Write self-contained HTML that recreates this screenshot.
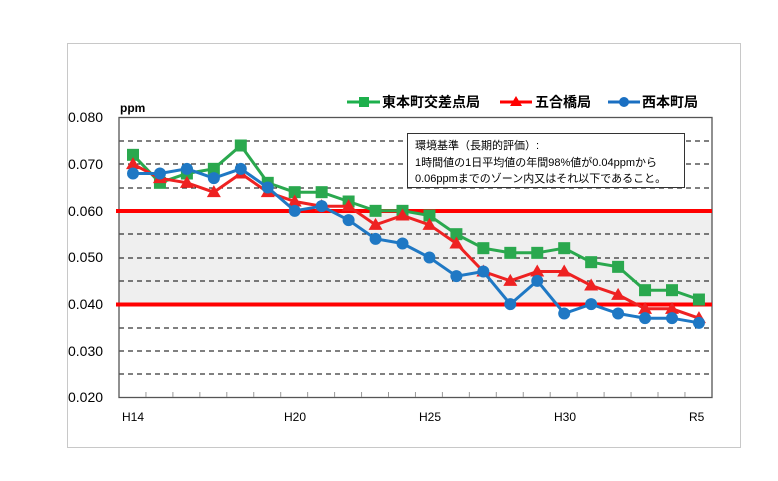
<!DOCTYPE html>
<html><head><meta charset="utf-8"><style>
body{margin:0;background:#fff}
svg{display:block}
text{font-family:"Liberation Sans","Noto Sans CJK JP",sans-serif}
</style></head><body>
<svg width="778" height="481" viewBox="0 0 778 481" xmlns="http://www.w3.org/2000/svg">
<rect x="67.5" y="43.5" width="673" height="404" fill="#fff" stroke="#c8c8c8"/>
<rect x="119" y="211" width="593" height="93" fill="#efefef"/>
<g stroke="#000" stroke-width="1" stroke-dasharray="5,4">
<line x1="119" x2="712" y1="141" y2="141"/>
<line x1="119" x2="712" y1="164" y2="164"/>
<line x1="119" x2="712" y1="188" y2="188"/>
<line x1="119" x2="712" y1="234" y2="234"/>
<line x1="119" x2="712" y1="258" y2="258"/>
<line x1="119" x2="712" y1="281" y2="281"/>
<line x1="119" x2="712" y1="328" y2="328"/>
<line x1="119" x2="712" y1="351" y2="351"/>
<line x1="119" x2="712" y1="374" y2="374"/>
</g>
<rect x="119" y="117.5" width="593" height="280" fill="none" stroke="#555" stroke-width="1.3"/>
<g id="ticks" stroke="#999"></g>
<line x1="116" x2="712" y1="211" y2="211" stroke="#ff0000" stroke-width="4"/>
<line x1="116" x2="712" y1="304.5" y2="304.5" stroke="#ff0000" stroke-width="4"/>
<g font-size="14" fill="#000">
<text x="68" y="122">0.080</text><text x="68" y="169">0.070</text><text x="68" y="216">0.060</text>
<text x="68" y="262">0.050</text><text x="68" y="309">0.040</text><text x="68" y="356">0.030</text><text x="68" y="402">0.020</text>
</g>
<text x="120" y="112" font-size="12" font-weight="bold">ppm</text>
<g font-size="12" fill="#000">
<text x="122" y="421">H14</text><text x="284" y="421">H20</text><text x="419" y="421">H25</text>
<text x="554" y="421">H30</text><text x="689" y="421">R5</text>
</g>
<rect x="407.5" y="133.5" width="277" height="54" fill="#fff" stroke="#333"/>
<g font-size="11" fill="#000">
<text x="415" y="149">環境基準（長期的評価）:</text>
<text x="415" y="166">1時間値の1日平均値の年間98%値が0.04ppmから</text>
<text x="415" y="182">0.06ppmまでのゾーン内又はそれ以下であること。</text>
</g>
<g font-size="14" font-weight="bold">
<line x1="347" x2="380" y1="102" y2="102" stroke="#1db04c" stroke-width="3"/><rect x="359" y="97" width="10" height="10" fill="#1db04c"/>
<text x="382" y="107">東本町交差点局</text>
<line x1="500" x2="532" y1="102" y2="102" stroke="#ff0000" stroke-width="3"/><polygon points="516,96 522,106 510,106" fill="#ff0000"/>
<text x="535" y="107">五合橋局</text>
<line x1="608" x2="640" y1="102" y2="102" stroke="#1a6fc2" stroke-width="3"/><circle cx="624" cy="102" r="5" fill="#1a6fc2"/>
<text x="642" y="107">西本町局</text>
</g>
<g id="series"></g>
</svg>
<script>
var X=function(i){return 133+i*26.95},Y=function(v){return 117.5+(0.080-v)*4667};
var t=document.getElementById('ticks'),s='';
for(var k=1;k<22;k++){var x=119+k*26.95;s+='<line x1="'+x+'" x2="'+x+'" y1="397" y2="392"/>';}
t.innerHTML=s;
var g=[.072,.066,.068,.069,.074,.066,.064,.064,.062,.060,.060,.059,.055,.052,.051,.051,.052,.049,.048,.043,.043,.041];
var r=[.070,.067,.066,.064,.068,.064,.062,.061,.061,.057,.059,.057,.053,.047,.045,.047,.047,.044,.042,.039,.039,.037];
var b=[.068,.068,.069,.067,.069,.065,.060,.061,.058,.054,.053,.050,.046,.047,.040,.045,.038,.040,.038,.037,.037,.036];
function pts(a){return a.map(function(v,i){return X(i).toFixed(1)+','+Y(v).toFixed(1)}).join(' ')}
var h='';
h+='<polyline points="'+pts(g)+'" fill="none" stroke="#2aa84e" stroke-width="3"/>';
g.forEach(function(v,i){h+='<rect x="'+(X(i)-6)+'" y="'+(Y(v)-6)+'" width="12" height="12" fill="#2aa84e"/>';});
h+='<polyline points="'+pts(r)+'" fill="none" stroke="#ee2222" stroke-width="3"/>';
r.forEach(function(v,i){var x=X(i),y=Y(v);h+='<polygon points="'+x+','+(y-7)+' '+(x+7)+','+(y+5)+' '+(x-7)+','+(y+5)+'" fill="#ee2222"/>';});
h+='<polyline points="'+pts(b)+'" fill="none" stroke="#1f78c4" stroke-width="3"/>';
b.forEach(function(v,i){h+='<circle cx="'+X(i)+'" cy="'+Y(v)+'" r="6" fill="#1f78c4"/>';});
document.getElementById('series').innerHTML=h;
</script>
</body></html>
